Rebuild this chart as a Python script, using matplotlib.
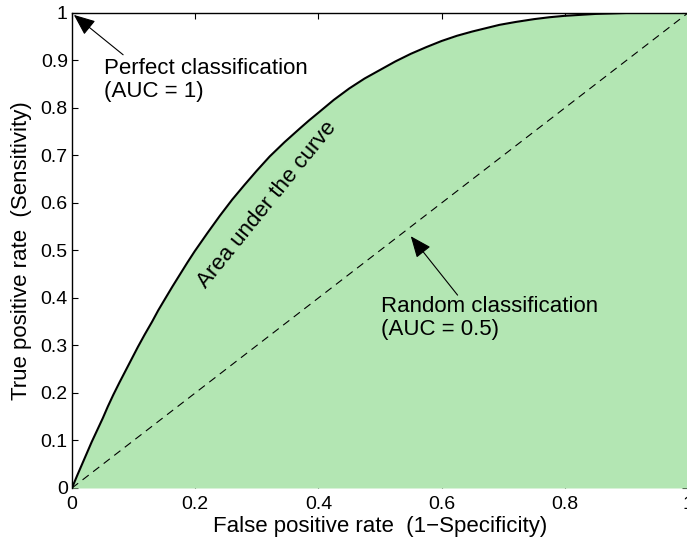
import matplotlib
matplotlib.use('Agg')
import matplotlib.pyplot as plt

plt.rcParams['font.family'] = ['Liberation Sans', 'DejaVu Sans']

# ROC curve points (false positive rate, true positive rate)
fpr = [0, 0.008, 0.016, 0.024, 0.032, 0.041, 0.05, 0.058, 0.067, 0.077, 0.087,
       0.097, 0.107, 0.118, 0.13, 0.14, 0.151, 0.163, 0.175, 0.187, 0.199,
       0.22, 0.24, 0.26, 0.28, 0.30, 0.321, 0.345, 0.37, 0.385, 0.40, 0.425,
       0.45, 0.475, 0.50, 0.525, 0.55, 0.575, 0.60, 0.625, 0.65, 0.672, 0.694,
       0.72, 0.75, 0.775, 0.80, 0.825, 0.85, 0.875, 0.90, 1.0]
tpr = [0, 0.025, 0.049, 0.073, 0.097, 0.122, 0.147, 0.171, 0.196, 0.222, 0.247,
       0.272, 0.297, 0.323, 0.35, 0.374, 0.398, 0.424, 0.449, 0.474, 0.498,
       0.537, 0.573, 0.607, 0.638, 0.668, 0.698, 0.728, 0.757, 0.774, 0.79, 0.817,
       0.841, 0.862, 0.88, 0.898, 0.914, 0.928, 0.941, 0.952, 0.961, 0.968, 0.975,
       0.981, 0.987, 0.991, 0.994, 0.996, 0.998, 0.999, 1.0, 1.0]

diag = [0, 1]

xticks = [0, 0.2, 0.4, 0.6, 0.8, 1]
xticklabels = ['0', '0.2', '0.4', '0.6', '0.8', '1']
yticks = [0, 0.1, 0.2, 0.3, 0.4, 0.5, 0.6, 0.7, 0.8, 0.9, 1]
yticklabels = ['0', '0.1', '0.2', '0.3', '0.4', '0.5', '0.6', '0.7', '0.8', '0.9', '1']

fig = plt.figure(figsize=(6.87, 5.45), dpi=100)
ax = fig.add_axes([0.1048, 0.1046, 0.8966, 0.8716])

# shaded area under the curve, then the curve and the chance line
ax.fill_between(fpr, tpr, 0, color='#b3e6b3', lw=0, zorder=1)
ax.plot(fpr, tpr, color='k', lw=1.5, zorder=3)
ax.plot(diag, diag, color='k', lw=0.8, linestyle=(0, (7, 5)), zorder=3)

ax.set_xlim(0, 1)
ax.set_ylim(0, 1)
ax.set_xticks(xticks)
ax.set_xticklabels(xticklabels)
ax.set_yticks(yticks)
ax.set_yticklabels(yticklabels)
ax.set_axisbelow(True)
ax.tick_params(direction='in', length=4.5, width=0.8, labelsize=14, top=True, right=True)
ax.tick_params(axis='x', pad=6)
ax.tick_params(axis='y', pad=3)
ax.spines['bottom'].set_visible(False)
ax.spines['right'].set_visible(False)
ax.spines['left'].set_linewidth(1.0)
ax.spines['top'].set_linewidth(1.0)

ax.set_xlabel('False positive rate  (1\u2212Specificity)', fontsize=16, labelpad=2)
ax.set_ylabel('True positive rate  (Sensitivity)', fontsize=16, labelpad=6)

arrow = dict(arrowstyle='-|>,head_length=0.6,head_width=0.25', color='k', lw=0.8,
             mutation_scale=22, shrinkA=0, shrinkB=0)

ax.annotate('', xy=(0.003, 0.996), xytext=(0.083, 0.912), arrowprops=arrow, zorder=4)
ax.text(0.052, 0.905, 'Perfect classification\n(AUC = 1)', fontsize=16,
        ha='left', va='top', linespacing=1.15, zorder=4)

ax.annotate('', xy=(0.55, 0.53), xytext=(0.626, 0.406), arrowprops=arrow, zorder=4)
ax.text(0.502, 0.405, 'Random classification\n(AUC = 0.5)', fontsize=16,
        ha='left', va='top', linespacing=1.15, zorder=4)

ax.text(0.316, 0.596, 'Area under the curve', fontsize=16, rotation=51,
        ha='center', va='center', rotation_mode='anchor', zorder=4)

fig.savefig('out.png', dpi=100)
